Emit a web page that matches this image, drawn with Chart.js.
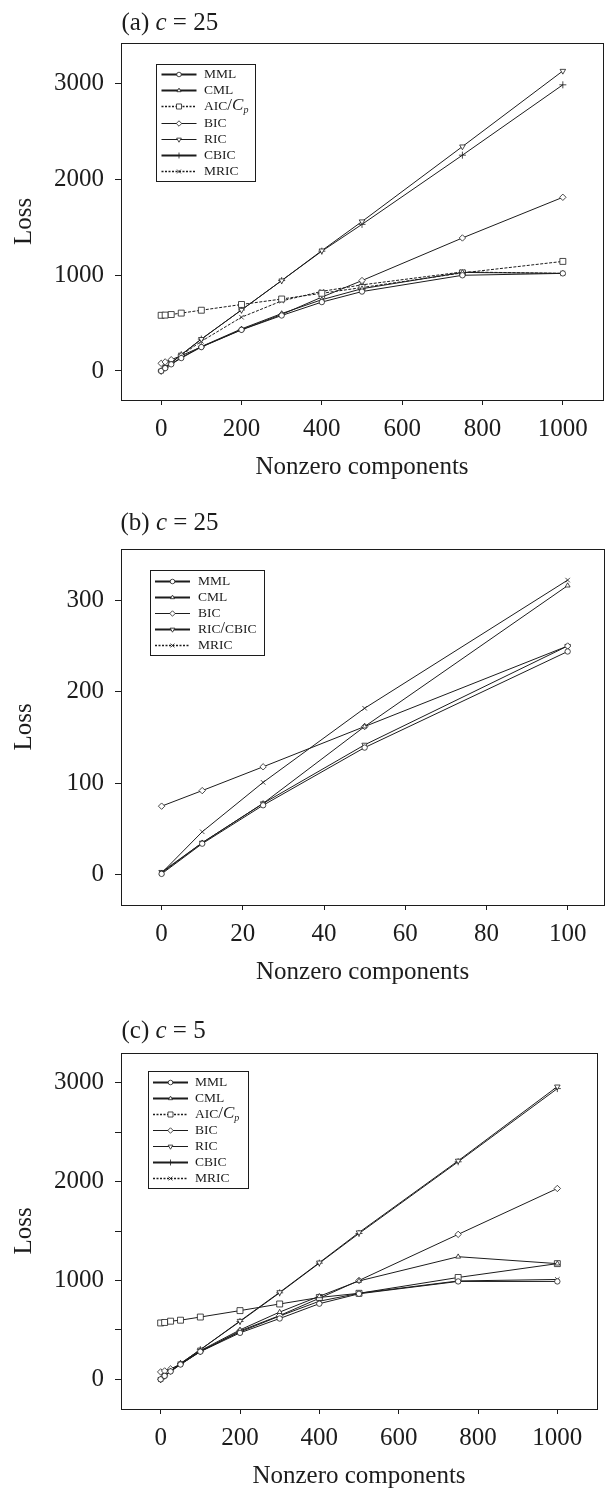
<!DOCTYPE html>
<html><head><meta charset="utf-8">
<script src="https://cdn.jsdelivr.net/npm/chart.js@4.4.1/dist/chart.umd.min.js"></script>
<style>
html,body{margin:0;padding:0;background:#fff;}
#wrap{position:relative;width:609px;height:1493px;overflow:hidden;}
canvas{position:absolute;left:0;display:block;}
</style></head><body>
<div id="wrap">
<canvas id="ca" width="609" height="490" style="top:0px"></canvas>
<canvas id="cb" width="609" height="510" style="top:480px"></canvas>
<canvas id="cc" width="609" height="503" style="top:990px"></canvas>
</div>
<script>
// ---------- data ----------
const X_AC = [0, 10, 25, 50, 100, 200, 300, 400, 500, 750, 1000];
const X_B  = [0, 10, 25, 50, 100];

const SERIES_AC = ['MML', 'CML', 'AIC/Cp', 'BIC', 'RIC', 'CBIC', 'MRIC'];
const SERIES_B  = ['MML', 'CML', 'BIC', 'RIC/CBIC', 'MRIC'];

// (a) c = 25
const A_MML  = [0, 30, 70, 135, 250, 430, 580, 720, 830, 1000, 1020];
const A_CML  = [0, 32, 75, 140, 255, 440, 600, 745, 860, 1030, 1020];
const A_AIC  = [582, 584, 590, 605, 635, 695, 752, 812, 872, 1025, 1145];
const A_BIC  = [80, 95, 118, 160, 252, 432, 590, 772, 945, 1390, 1815];
const A_RIC  = [0, 35, 85, 170, 333, 638, 945, 1258, 1562, 2345, 3135];
const A_CBIC = [0, 35, 85, 170, 333, 638, 945, 1252, 1532, 2255, 2990];
const A_MRIC = [0, 40, 90, 165, 310, 562, 732, 832, 900, 1035, 1020];

// (b) c = 25
const B_MML    = [1, 34, 76, 139, 244];
const B_CML    = [2, 35, 78, 162, 316];
const B_BIC    = [75, 92, 118, 162, 250];
const B_RICCB  = [3, 35, 78, 142, 250];
const B_MRIC   = [2, 47, 101, 182, 322];

// (c) c = 5
const C_MML  = [0, 35, 80, 150, 280, 470, 615, 765, 865, 990, 990];
const C_CML  = [0, 35, 85, 155, 290, 500, 680, 840, 995, 1240, 1170];
const C_AIC  = [570, 575, 588, 598, 630, 695, 762, 828, 870, 1030, 1170];
const C_BIC  = [75, 85, 105, 155, 280, 490, 645, 820, 1000, 1466, 1930];
const C_RIC  = [0, 35, 85, 160, 300, 590, 880, 1180, 1485, 2210, 2960];
const C_CBIC = [0, 35, 85, 160, 300, 585, 875, 1175, 1475, 2200, 2940];
const C_MRIC = [0, 35, 80, 150, 285, 480, 640, 790, 870, 995, 1010];

// ticks
const X_TICKS_AC = [0, 200, 400, 600, 800, 1000];
const X_TICKS_B  = [0, 20, 40, 60, 80, 100];
const Y_TICKS_A  = [0, 1000, 2000, 3000];
const Y_TICKS_B  = [0, 100, 200, 300];
const Y_TICKS_C  = [0, 500, 1000, 1500, 2000, 2500, 3000];
const Y_LABELS_C = [0, 1000, 2000, 3000];

const TITLE_A = ['(a) ', 'c', ' = 25'];
const TITLE_B = ['(b) ', 'c', ' = 25'];
const TITLE_C = ['(c) ', 'c', ' = 5'];
const X_TITLE = 'Nonzero components';
const Y_TITLE = 'Loss';

// ---------- styles ----------
const INK = '#1c1c1c';
const FONT = "'Liberation Serif','Times New Roman',serif";
const STYLE = {
  'MML':      {ps: 'circle',   rot: 0,   r: 2.7, lw: 2},
  'CML':      {ps: 'triangle', rot: 0,   r: 2.8, lw: 2},
  'AIC/Cp':   {ps: 'rect',     rot: 0,   r: 4.2, lw: 1.6, dash: [2, 1.5]},
  'BIC':      {ps: 'rectRot',  rot: 0,   r: 3.2, lw: 1},
  'RIC':      {ps: 'triangle', rot: 180, r: 3.2, lw: 1},
  'CBIC':     {ps: 'cross',    rot: 0,   r: 3.5, lw: 2},
  'MRIC':     {ps: 'crossRot', rot: 0,   r: 3.2, lw: 1.6, dash: [2, 1.5]},
  'RIC/CBIC': {ps: 'triangle', rot: 180, r: 3.2, lw: 2}
};

// ---------- decoration plugin: frame, title, boxed legend ----------
const decor = {
  id: 'decor',
  afterDraw(chart, args, o) {
    const ctx = chart.ctx, ca = chart.chartArea;
    ctx.save();
    ctx.strokeStyle = INK; ctx.lineWidth = 1; ctx.setLineDash([]);
    ctx.strokeRect(Math.round(ca.left) + 0.5, Math.round(ca.top) + 0.5,
                   Math.round(ca.right - ca.left), Math.round(ca.bottom - ca.top));
    // title
    ctx.fillStyle = INK; ctx.textBaseline = 'alphabetic'; ctx.textAlign = 'left';
    let tx = o.titleX;
    o.title.forEach((part, i) => {
      ctx.font = (i === 1 ? 'italic ' : '') + '25px ' + FONT;
      ctx.fillText(part, tx, o.titleY);
      tx += ctx.measureText(part).width;
    });
    // legend box
    const L = o.legend;
    ctx.fillStyle = '#fff';
    ctx.fillRect(L.x, L.y, L.w, L.h);
    ctx.strokeStyle = INK; ctx.lineWidth = 1;
    ctx.strokeRect(Math.round(L.x) + 0.5, Math.round(L.y) + 0.5, Math.round(L.w), Math.round(L.h));
    chart.data.datasets.forEach((ds, i) => {
      const st = STYLE[ds.label];
      const y = Math.round(L.y + L.first + i * L.step) + 0.5;
      ctx.strokeStyle = INK; ctx.lineWidth = st.lw;
      ctx.setLineDash(st.dash || []);
      ctx.beginPath(); ctx.moveTo(L.x + L.l0, y); ctx.lineTo(L.x + L.l1, y); ctx.stroke();
      ctx.setLineDash([]);
      ctx.fillStyle = '#fff'; ctx.strokeStyle = INK; ctx.lineWidth = 0.8;
      Chart.helpers.drawPoint(ctx, {pointStyle: st.ps, rotation: st.rot, radius: st.r * 0.85, borderWidth: 0.8},
                              L.x + (L.l0 + L.l1) / 2, y);
      ctx.fillStyle = INK; ctx.textBaseline = 'middle';
      let x = L.x + L.tx;
      if (ds.label === 'AIC/Cp') {
        ctx.font = '13.5px ' + FONT; ctx.fillText('AIC', x, y); x += ctx.measureText('AIC').width;
        ctx.font = '17px ' + FONT; ctx.fillText('/', x, y - 1); x += ctx.measureText('/').width;
        ctx.font = 'italic 17px ' + FONT; ctx.fillText('C', x, y - 1); x += ctx.measureText('C').width;
        ctx.font = 'italic 10px ' + FONT; ctx.fillText('p', x, y + 4);
      } else if (ds.label === 'RIC/CBIC') {
        ctx.font = '13.5px ' + FONT; ctx.fillText('RIC', x, y); x += ctx.measureText('RIC').width;
        ctx.font = '16px ' + FONT; ctx.fillText('/', x, y - 1); x += ctx.measureText('/').width;
        ctx.font = '13.5px ' + FONT; ctx.fillText('CBIC', x, y);
      } else {
        ctx.font = '13.5px ' + FONT; ctx.fillText(ds.label, x, y);
      }
    });
    ctx.restore();
  }
};

function makeChart(id, cfg) {
  const datasets = cfg.series.map((name, i) => {
    const st = STYLE[name];
    return {
      label: name,
      data: cfg.x.map((xv, j) => ({x: xv, y: cfg.values[i][j]})),
      borderColor: INK, borderWidth: 1, borderDash: cfg.dashed && st.dash ? [3, 1.5] : [],
      pointStyle: st.ps, pointRotation: st.rot, pointRadius: st.r,
      pointBorderWidth: 0.8, pointBackgroundColor: '#fff', pointBorderColor: INK,
      tension: 0, fill: false
    };
  });
  const tickFont = {family: FONT, size: 25};
  const a = cfg.area;
  return new Chart(document.getElementById(id), {
    type: 'line',
    data: {datasets},
    options: {
      responsive: false, animation: false, devicePixelRatio: 1,
      layout: {padding: {top: a.top, left: 0, right: 609 - a.right, bottom: cfg.h - a.bottom - 80}},
      plugins: {
        legend: {display: false}, tooltip: {enabled: false}, title: {display: false},
        decor: {title: cfg.title, titleX: cfg.titleX, titleY: cfg.titleY, legend: cfg.legend}
      },
      scales: {
        x: {
          type: 'linear', min: cfg.xmin, max: cfg.xmax,
          afterBuildTicks: s => { s.ticks = cfg.xTicks.map(v => ({value: v})); },
          afterFit: s => { s.height = 80; },
          grid: {display: true, drawOnChartArea: false, drawTicks: true, tickLength: 5, color: INK, tickColor: INK, lineWidth: 1},
          border: {display: false},
          ticks: {font: tickFont, color: INK, padding: 9, maxRotation: 0, autoSkip: false, callback: v => String(v)},
          title: {display: true, text: X_TITLE, font: {family: FONT, size: 25, lineHeight: 1}, color: INK, padding: {top: 0, bottom: 0}}
        },
        y: {
          type: 'linear', min: cfg.ymin, max: cfg.ymax,
          afterBuildTicks: s => { s.ticks = cfg.yTicks.map(v => ({value: v})); },
          afterFit: s => { s.width = a.left; },
          grid: {display: true, drawOnChartArea: false, drawTicks: true, tickLength: 6, color: INK, tickColor: INK, lineWidth: 1},
          border: {display: false},
          ticks: {font: tickFont, color: INK, padding: 11, autoSkip: false,
                  callback: v => (cfg.yLabels.includes(v) ? String(v) : '')},
          title: {display: true, text: Y_TITLE, font: {family: FONT, size: 25, lineHeight: 1}, color: INK, padding: {top: 12, bottom: 0}}
        }
      }
    },
    plugins: [decor]
  });
}

makeChart('ca', {
  h: 490, area: {left: 121, right: 603, top: 43, bottom: 400},
  x: X_AC, series: SERIES_AC, dashed: true,
  values: [A_MML, A_CML, A_AIC, A_BIC, A_RIC, A_CBIC, A_MRIC],
  xmin: -100, xmax: 1100, ymin: -303, ymax: 3427,
  xTicks: X_TICKS_AC, yTicks: Y_TICKS_A, yLabels: Y_TICKS_A,
  title: TITLE_A, titleX: 121.5, titleY: 29.5,
  legend: {x: 155.5, y: 63.5, w: 99, h: 116.5, first: 10.7, step: 16.1, l0: 6, l1: 41, tx: 48.6}
});
makeChart('cb', {
  h: 510, area: {left: 121, right: 607, top: 69, bottom: 425},
  x: X_B, series: SERIES_B, dashed: false,
  values: [B_MML, B_CML, B_BIC, B_RICCB, B_MRIC],
  xmin: -10, xmax: 109, ymin: -33, ymax: 356,
  xTicks: X_TICKS_B, yTicks: Y_TICKS_B, yLabels: Y_TICKS_B,
  title: TITLE_B, titleX: 120.5, titleY: 50,
  legend: {x: 149.5, y: 90, w: 114, h: 84.5, first: 10.7, step: 16.1, l0: 5.5, l1: 40.5, tx: 48.5}
});
makeChart('cc', {
  h: 503, area: {left: 121, right: 597, top: 63, bottom: 419},
  x: X_AC, series: SERIES_AC, dashed: false,
  values: [C_MML, C_CML, C_AIC, C_BIC, C_RIC, C_CBIC, C_MRIC],
  xmin: -100, xmax: 1100, ymin: -300, ymax: 3300,
  xTicks: X_TICKS_AC, yTicks: Y_TICKS_C, yLabels: Y_LABELS_C,
  title: TITLE_C, titleX: 121.5, titleY: 48,
  legend: {x: 147.5, y: 81, w: 100, h: 116.5, first: 10.7, step: 16, l0: 5.5, l1: 40.5, tx: 47.5}
});
</script>
</body></html>
